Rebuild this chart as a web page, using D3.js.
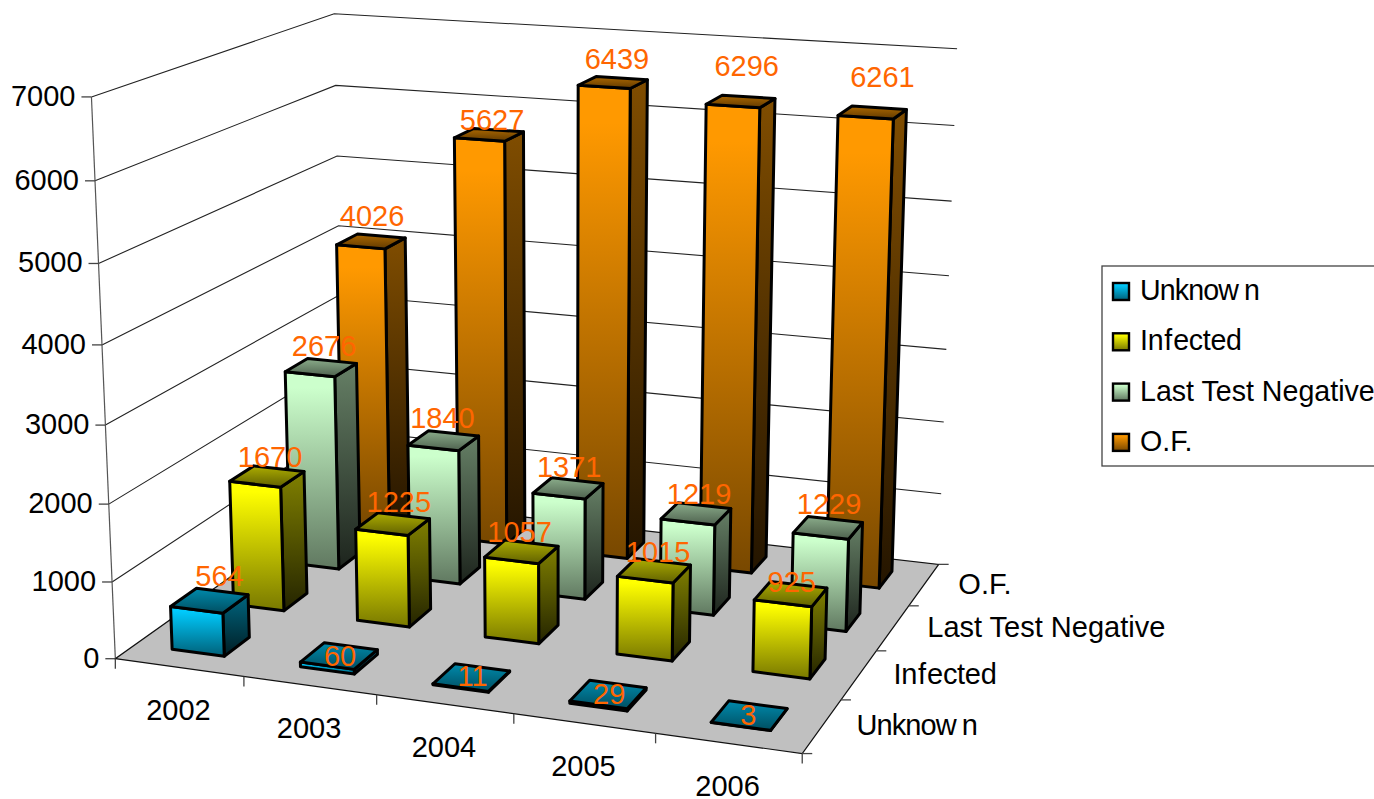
<!DOCTYPE html>
<html><head><meta charset="utf-8">
<script src="https://cdn.jsdelivr.net/npm/d3@7/dist/d3.min.js"></script>
<style>html,body{margin:0;padding:0;background:#fff;overflow:hidden}svg{display:block}text{font-family:"Liberation Sans",Arial,sans-serif;font-size:29px}</style>
</head><body><svg id="c" width="1374" height="799"></svg>
<script>
const years=["2002","2003","2004","2005","2006"];
const series=["Unknown","Infected","Last Test Negative","O.F."];
const unknownValues=[564,60,11,29,3];
const infectedValues=[1670,1225,1057,1015,925];
const lastTestNegativeValues=[2676,1840,1371,1219,1229];
const ofValues=[4026,5627,6439,6296,6261];
const valuesBySeries=[unknownValues,infectedValues,lastTestNegativeValues,ofValues];
const seriesColors=["#00ccff","#ffff00","#ccffcc","#ff9900"];
// how far each value label sits from its default spot: [dx,dy], one row per series
const labelNudges=[
 [[6,-2],[-3,4],[-3,3],[-3,4],[-5,4]],
 [[-1,4],[2,1],[-6,3],[0,4],[-3,11]],
 [[-1,1],[-5,0],[-3,2],[-1,3],[-3,-1]],
 [[-3,-2],[-1,8],[0,0],[2,-12],[6,-12]]];

// perspective camera fitted to the picture's box: [u,v,w,x,y]
const anchors=[
 [0,0,0,115,659],[1,0,0,801,753],[.2,0,0,242,676],[.4,0,0,377,695],[.6,0,0,514,714],[.8,0,0,656,733],
 [1,.25,0,842,701],[1,.5,0,878,651],[1,.75,0,909,606],[1,1,0,938,564],
 [0,0,1,91,97],[0,0,6/7,95,181],[0,0,5/7,98,266],[0,0,4/7,103,344],[0,0,3/7,106,425],[0,0,2/7,109,503],[0,0,1/7,112,581],
 [0,1,1,334,12],[0,1,6/7,336,86],[0,1,5/7,337,155],[0,1,4/7,339,226],[0,1,3/7,340,297],
 [1,1,1,957,49],[1,1,6/7,954,126],[1,1,5/7,952,200],[1,1,4/7,949,276],[1,1,3/7,946,350],[1,1,2/7,943,422],[1,1,1/7,941,493]];
function solveCamera(pts){
  const A=[],b=[];
  pts.forEach(([u,v,w,x,y])=>{
    A.push([u,v,w,1,0,0,0,0,-x*u,-x*v,-x*w]);b.push(x);
    A.push([0,0,0,0,u,v,w,1,-y*u,-y*v,-y*w]);b.push(y);
  });
  const n=11,M=d3.range(n).map(i=>d3.range(n+1).map(j=>{
    let s=0;A.forEach((r,k)=>{s+=r[i]*(j<n?r[j]:b[k]);});return s;}));
  for(let i=0;i<n;i++){
    let p=i;for(let r=i+1;r<n;r++)if(Math.abs(M[r][i])>Math.abs(M[p][i]))p=r;
    [M[i],M[p]]=[M[p],M[i]];
    for(let r=0;r<n;r++)if(r!==i){const f=M[r][i]/M[i][i];for(let c=i;c<=n;c++)M[r][c]-=f*M[i][c];}
  }
  return d3.range(n).map(i=>M[i][n]/M[i][i]);
}
const m=solveCamera(anchors);
const project=(u,v,w)=>{const d=m[8]*u+m[9]*v+m[10]*w+1;
  return [(m[0]*u+m[1]*v+m[2]*w+m[3])/d,(m[4]*u+m[5]*v+m[6]*w+m[7])/d];};

const pu=0.59,pv=0.59,uShift=-0.001,vShift=0.003;
const xBand=d3.scaleBand().domain(years).range([uShift,1+uShift]).paddingInner(pu).paddingOuter(pu/2);
const zBand=d3.scaleBand().domain(series).range([vShift,1+vShift]).paddingInner(pv).paddingOuter(pv/2);
const yScale=d3.scaleLinear().domain([0,7000]).range([0,1]);
const path=pts=>d3.line()(pts)+"Z";

const svg=d3.select("#c");
const defs=svg.append("defs");
const stopsFor=(c,a,b,mid)=>{const s=[[0,a],[1,b]];if(mid)s.splice(1,0,mid);
  return s.map(([o,k])=>[o,d3.rgb(d3.color(c).r*k,d3.color(c).g*k,d3.color(c).b*k).formatHex()]);};
seriesColors.forEach((c,i)=>{
  const g=[["front",stopsFor(c,1,0.47,[0.08,1])],["side",stopsFor(c,0.5,0.14)],["top",stopsFor(c,0.68,0.38)]];
  g.forEach(([name,stops])=>{
    const lg=defs.append("linearGradient").attr("id",name+i).attr("x1",0).attr("y1",0).attr("x2",0).attr("y2",1);
    stops.forEach(([o,col])=>lg.append("stop").attr("offset",o).attr("stop-color",col));
  });
});

// grid
const gridG=svg.append("g");
const ticks=yScale.ticks(7);
gridG.selectAll("path").data(ticks.filter(t=>t>0)).join("path")
  .attr("d",t=>d3.line()([project(0,0,yScale(t)),project(0,1,yScale(t)),project(1,1,yScale(t))]))
  .attr("fill","none").attr("stroke","#222").attr("stroke-width",1.1);
gridG.append("path").attr("d",d3.line()([project(0,0,0),project(0,0,1)])).attr("stroke","#555").attr("stroke-width",1.2);
// floor
svg.append("path").attr("d",path([project(0,0,0),project(1,0,0),project(1,1,0),project(0,1,0)]))
  .attr("fill","#c0c0c0").attr("stroke","#111").attr("stroke-width",1.2);

// ticks
const tickG=svg.append("g").attr("stroke","#444").attr("stroke-width",1.3);
ticks.forEach(t=>{const p=project(0,0,yScale(t));
  tickG.append("path").attr("d",d3.line()([[p[0]-10,p[1]],p]));});
d3.range(years.length+1).forEach(i=>{const p=project(i/years.length,0,0);
  tickG.append("path").attr("d",d3.line()([p,[p[0],p[1]+10]]));});
d3.range(series.length+1).forEach(i=>{const p=project(1,i/series.length,0);
  tickG.append("path").attr("d",d3.line()([p,[p[0]+10,p[1]]]));});

// bars, back row first
const barG=svg.append("g").attr("stroke","#000").attr("stroke-width",3).attr("stroke-linejoin","round");
d3.range(series.length-1,-1,-1).forEach(si=>{
  const v0=zBand(series[si]),v1=v0+zBand.bandwidth();
  valuesBySeries[si].forEach((val,yi)=>{
    const u0=xBand(years[yi]),u1=u0+xBand.bandwidth(),w=yScale(val);
    const g=barG.append("g");
    g.append("path").attr("d",path([project(u1,v0,0),project(u1,v1,0),project(u1,v1,w),project(u1,v0,w)])).attr("fill",`url(#side${si})`);
    g.append("path").attr("d",path([project(u0,v0,0),project(u1,v0,0),project(u1,v0,w),project(u0,v0,w)])).attr("fill",`url(#front${si})`);
    g.append("path").attr("d",path([project(u0,v0,w),project(u1,v0,w),project(u1,v1,w),project(u0,v1,w)])).attr("fill",`url(#top${si})`);
  });
});

// labels with the reference's loose letter gaps: [piece, dx, letter-spacing]
const gaps={"Unknown":[["Unknow",0,-0.9],["n",6,0]],"Infected":[["In",0,-0.3],["f",1,0],["ected",1,-0.3]]};
function setLabel(sel,label){
  (gaps[label]||[[label,0,0]]).forEach(([s,dx,ls])=>sel.append("tspan").attr("dx",dx).attr("letter-spacing",ls).text(s));
}
svg.append("g").selectAll("text").data(ticks).join("text")
  .attr("text-anchor","end").attr("fill","#000")
  .attr("x",t=>project(0,0,yScale(t))[0]-16)
  .attr("y",t=>project(0,0,yScale(t))[1]+9)
  .text(t=>t);
years.forEach(y=>{
  const p=project(xBand(y)+xBand.bandwidth()/2,0,0);
  svg.append("text").attr("text-anchor","middle").attr("x",p[0]).attr("y",p[1]+53).text(y);
});
series.forEach(s=>{
  const p=project(1,zBand(s)+zBand.bandwidth()/2,0);
  const t=svg.append("text").attr("x",p[0]+34).attr("y",p[1]+10);
  setLabel(t,s);
});

// value labels
const valG=svg.append("g").attr("fill","#ff6600").attr("text-anchor","middle");
series.forEach((s,si)=>valuesBySeries[si].forEach((val,yi)=>{
  const p=project(xBand(years[yi])+xBand.bandwidth()/2,zBand(s)+zBand.bandwidth()/2,yScale(val));
  const [dx,dy]=labelNudges[si][yi];
  valG.append("text").attr("x",p[0]+4+dx).attr("y",p[1]+(val<100?6:-13)+dy).text(val);
}));

// legend
const lg=svg.append("g");
lg.append("rect").attr("x",1102).attr("y",266).attr("width",320).attr("height",200).attr("fill","#fff").attr("stroke","#444").attr("stroke-width",1.3);
series.forEach((s,i)=>{
  const y=283+i*50.3;
  lg.append("rect").attr("x",1113).attr("y",y).attr("width",16).attr("height",17).attr("fill",`url(#front${i})`).attr("stroke","#000").attr("stroke-width",2.4);
  setLabel(lg.append("text").attr("x",1140).attr("y",y+17).style("font-size","28.6px"),s);
});
</script></body></html>
